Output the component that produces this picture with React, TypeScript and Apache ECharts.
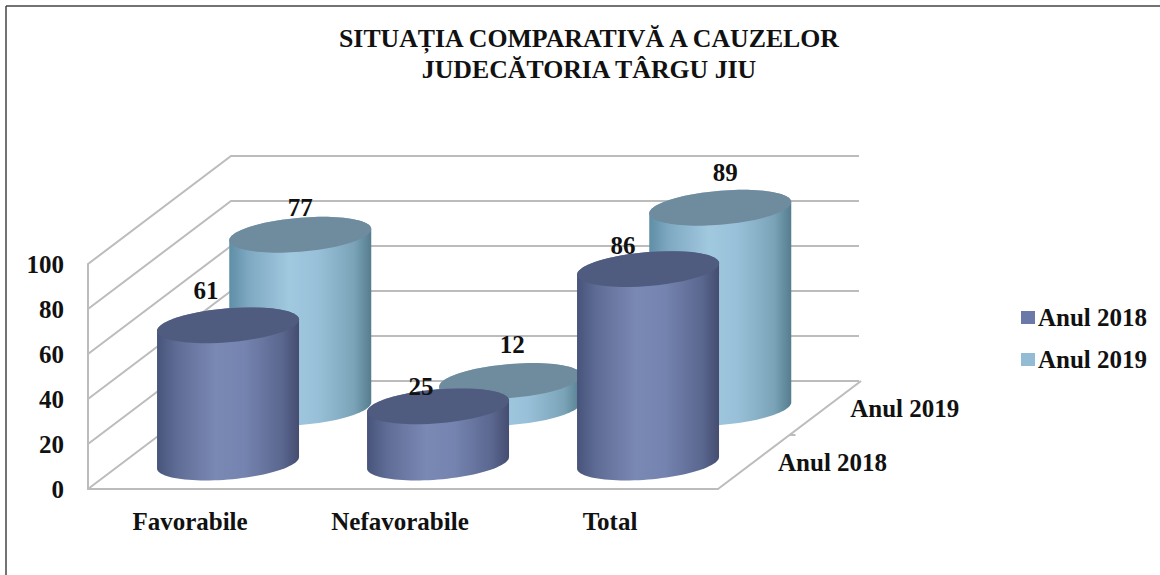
import React, { useEffect, useRef } from "react";
import * as echarts from "echarts";

const titleLines = ["SITUAȚIA COMPARATIVĂ A CAUZELOR", "JUDECĂTORIA TÂRGU JIU"];
const categories = ["Favorabile", "Nefavorabile", "Total"];
const yTicks = [0, 20, 40, 60, 80, 100];
const seriesNames = ["Anul 2018", "Anul 2019"];
const values2018 = [61, 25, 86];
const values2019 = [77, 12, 89];

const FONT = "'Liberation Serif', 'Times New Roman', serif";
const DEPTH_X = 143;
const DEPTH_Y = 108;
const BACK_WIDTH = 628;
const RADIUS_X = 71;
const RADIUS_Y = 17;
const SKEW = 0.08;
const LINE = "#bcbcbc";

const look2018 = {
  depth: 0.245,
  legend: "#6b79a8",
  top: "#4f5c80",
  stops: ["#47537a", "#5f6d96", "#7a88b4", "#7483af", "#5a678f", "#454c70"],
  labelOffsets: [[-22, -35], [-17, -20], [-25, -24]],
};
const look2019 = {
  depth: 0.75,
  legend: "#93bcd4",
  top: "#6f8b9e",
  stops: ["#5f8ea6", "#7fa9c2", "#a0c8df", "#98c0d8", "#7ba3b8", "#557d8e"],
  labelOffsets: [[0, -27], [2, -37], [5, -35]],
};

function ellipsePoints(cx: number, cy: number, from: number, to: number) {
  const pts: number[][] = [];
  const n = 48;
  for (let i = 0; i <= n; i++) {
    const t = from + ((to - from) * i) / n;
    const ex = RADIUS_X * Math.cos(t);
    pts.push([cx + ex, cy + RADIUS_Y * Math.sin(t) - SKEW * ex]);
  }
  return pts;
}

function cylinderSeries(name: string, values: number[], look: typeof look2018) {
  return {
    type: "custom",
    name,
    coordinateSystem: "cartesian2d",
    clip: false,
    itemStyle: { color: look.legend },
    data: values.map((v, i) => [i, v]),
    encode: { x: 0, y: 1 },
    renderItem: (params: any, api: any) => {
      const idx = api.value(0);
      const val = api.value(1);
      const zero = api.coord([idx, 0]);
      const head = api.coord([idx, val]);
      const cx = zero[0] + look.depth * DEPTH_X;
      const baseY = zero[1] - look.depth * DEPTH_Y;
      const topY = head[1] - look.depth * DEPTH_Y;
      const s = look.stops;
      const fill = new echarts.graphic.LinearGradient(0, 0, 1, 0, [
        { offset: 0, color: s[0] },
        { offset: 0.14, color: s[1] },
        { offset: 0.42, color: s[2] },
        { offset: 0.62, color: s[3] },
        { offset: 0.88, color: s[4] },
        { offset: 1, color: s[5] },
      ]);
      const body = [
        ...ellipsePoints(cx, topY, Math.PI, 2 * Math.PI),
        ...ellipsePoints(cx, baseY, 0, Math.PI),
      ];
      const off = look.labelOffsets[params.dataIndex];
      return {
        type: "group",
        children: [
          { type: "polygon", shape: { points: body }, style: { fill } },
          {
            type: "polygon",
            shape: { points: ellipsePoints(cx, topY, 0, 2 * Math.PI) },
            style: { fill: look.top },
          },
          {
            type: "text",
            z2: 50,
            style: {
              x: cx + off[0],
              y: topY + off[1],
              text: String(val),
              fill: "#111",
              font: `bold 25px ${FONT}`,
              align: "center",
              verticalAlign: "middle",
            },
          },
        ],
      };
    },
  };
}

const wallSeries = {
  type: "custom",
  name: "walls",
  coordinateSystem: "cartesian2d",
  clip: false,
  silent: true,
  data: yTicks.map((t) => [0, t]),
  encode: { x: 0, y: 1 },
  renderItem: (params: any, api: any) => {
    const cs = params.coordSys;
    const y = api.coord([0, api.value(1)])[1];
    const x0 = cs.x;
    const children: any[] = [
      {
        type: "polyline",
        shape: {
          points: [
            [x0, y],
            [x0 + DEPTH_X, y - DEPTH_Y],
            [x0 + DEPTH_X + BACK_WIDTH, y - DEPTH_Y],
          ],
        },
        style: { stroke: LINE, lineWidth: 2, fill: "none" },
      },
    ];
    if (api.value(1) === 0) {
      const xr = x0 + cs.width;
      children.push({
        type: "line",
        shape: { x1: xr, y1: y, x2: xr + DEPTH_X, y2: y - DEPTH_Y },
        style: { stroke: LINE, lineWidth: 2 },
      });
      children.push({
        type: "line",
        shape: { x1: xr + DEPTH_X * 0.5, y1: y - DEPTH_Y * 0.5, x2: xr + DEPTH_X * 0.5 + 6, y2: y - DEPTH_Y * 0.5 },
        style: { stroke: LINE, lineWidth: 2 },
      });
      [look2018, look2019].forEach((lk, i) => {
        children.push({
          type: "text",
          style: {
            x: xr + lk.depth * DEPTH_X + 25,
            y: y - lk.depth * DEPTH_Y,
            text: seriesNames[i],
            fill: "#111",
            font: `bold 25px ${FONT}`,
            align: "left",
            verticalAlign: "middle",
          },
        });
      });
    }
    return { type: "group", children };
  },
};

export default function App() {
  const ref = useRef<HTMLDivElement>(null);
  useEffect(() => {
    document.body.style.margin = "0";
    const chart = echarts.init(ref.current!, null, { renderer: "svg" });
    chart.setOption({
      animation: false,
      backgroundColor: "#fff",
      title: {
        text: titleLines.join("\n"),
        left: 584,
        top: 18,
        textAlign: "center",
        textStyle: { fontFamily: FONT, fontWeight: "bold", fontSize: 25.8, lineHeight: 31, color: "#111" },
      },
      grid: { left: 88, top: 264, width: 630, height: 225 },
      xAxis: {
        type: "category",
        data: categories,
        axisTick: { show: false },
        axisLine: { show: true, lineStyle: { color: LINE, width: 2 } },
        axisLabel: {
          margin: 20,
          padding: [0, 6, 0, 0],
          color: "#111",
          fontFamily: FONT,
          fontWeight: "bold",
          fontSize: 25,
        },
      },
      yAxis: {
        type: "value",
        min: 0,
        max: 100,
        interval: 20,
        splitLine: { show: false },
        axisTick: { show: false },
        axisLine: { show: true, lineStyle: { color: LINE, width: 2 } },
        axisLabel: { margin: 24, color: "#111", fontFamily: FONT, fontWeight: "bold", fontSize: 25 },
      },
      legend: {
        data: seriesNames,
        orient: "vertical",
        left: 1016,
        top: 300,
        itemWidth: 14,
        itemHeight: 13,
        itemGap: 17,
        icon: "rect",
        textStyle: { fontFamily: FONT, fontWeight: "bold", fontSize: 25, color: "#111", padding: [0, 0, 0, -2] },
      },
      graphic: [
        { type: "line", shape: { x1: 6, y1: 6, x2: 6, y2: 575 }, style: { stroke: "#444", lineWidth: 1.5 } },
        { type: "line", shape: { x1: 6, y1: 6, x2: 1160, y2: 6 }, style: { stroke: "#444", lineWidth: 1.5 } },
      ],
      series: [
        wallSeries,
        cylinderSeries(seriesNames[1], values2019, look2019),
        cylinderSeries(seriesNames[0], values2018, look2018),
      ],
    });
    return () => chart.dispose();
  }, []);
  return <div ref={ref} style={{ width: 1160, height: 575 }} />;
}
